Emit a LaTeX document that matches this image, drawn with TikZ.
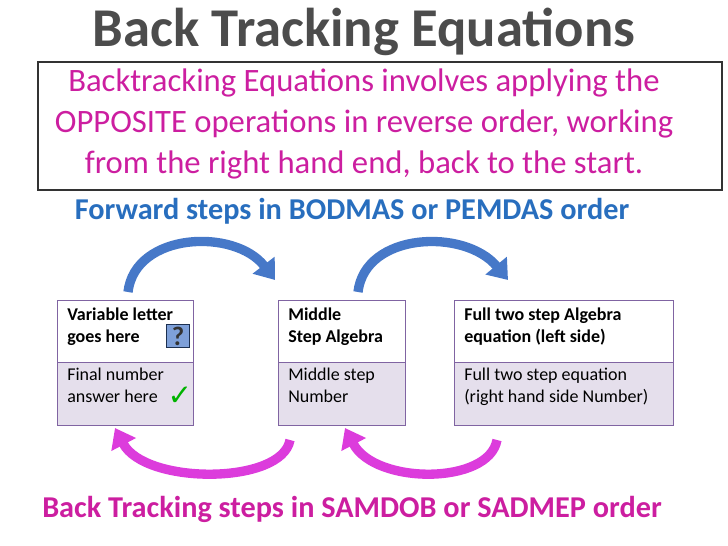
\documentclass[tikz,border=0pt]{standalone}
\usepackage{fontspec}
\setmainfont{Carlito}
\newfontfamily\djv{DejaVu Sans}
\usetikzlibrary{arrows.meta}
\definecolor{pinkt}{RGB}{204,30,160}
\definecolor{bluet}{RGB}{40,110,190}
\definecolor{arrblue}{RGB}{70,120,200}
\definecolor{arrpink}{RGB}{220,60,220}
\definecolor{lav}{RGB}{229,223,236}
\definecolor{boxline}{RGB}{128,100,162}
\tikzset{
  cell/.style={draw=boxline,line width=1pt,anchor=north west,inner sep=0pt},
  barrow/.style={line width=7pt,draw=arrblue,-{Triangle[length=14pt,width=20pt]}},
  parrow/.style={line width=7pt,draw=arrpink,-{Triangle[length=14pt,width=20pt]}}
}
\begin{document}
\begin{tikzpicture}[x=0.75pt,y=-0.75pt]
\useasboundingbox (0,0) rectangle (728,546);
\node[font=\bfseries\fontsize{41}{44}\selectfont,text=black!70] (title) at (364,32) {Back Tracking Equations};
\node[draw=black!80,line width=1.2pt,minimum width=684*0.75pt,minimum height=128*0.75pt] (intro) at (380,126) {};
\node[align=center,text=pinkt,font=\fontsize{24.5}{30.5}\selectfont] (introt) at (364,124) {Backtracking Equations involves applying the\\OPPOSITE operations in reverse order, working\\from the right hand end, back to the start.};
\node[text=bluet,font=\bfseries\fontsize{22.7}{26}\selectfont] (fwd) at (352,211) {Forward steps in BODMAS or PEMDAS order};
\node[text=pinkt,font=\bfseries\fontsize{22.7}{26}\selectfont] (back) at (352,509) {Back Tracking steps in SAMDOB or SADMEP order};
% arrows
\coordinate (f1s) at (128,292); \coordinate (f1e) at (275,280);
\coordinate (f2s) at (358,292); \coordinate (f2e) at (508,280);
\draw[barrow] (f1s) .. controls (135,232) and (235,228) .. (f1e);
\draw[barrow] (f2s) .. controls (365,232) and (465,228) .. (f2e);
\coordinate (b1s) at (290,440); \coordinate (b1e) at (115,428);
\coordinate (b2s) at (497,440); \coordinate (b2e) at (345,428);
\draw[parrow] (b1s) .. controls (282,485) and (145,485) .. (b1e);
\draw[parrow] (b2s) .. controls (489,485) and (375,485) .. (b2e);
% tables
\foreach \n/\x/\w/\ta/\tb in {a/57/136/{Variable letter\\goes here}/{Final number\\answer here},
  b/278/127/{Middle\\Step Algebra}/{Middle step\\Number},
  c/454/219/{Full two step Algebra\\equation (left side)}/{Full two step equation\\(right hand side Number)}}{
  \node[cell,fill=white,minimum width=\w*0.75pt,minimum height=62*0.75pt] (\n top) at (\x,300) {};
  \node[anchor=north west,align=left,font=\bfseries\fontsize{13.5}{16}\selectfont,inner sep=0pt] (\n tt) at (\x+10,308) {\ta};
  \node[cell,fill=lav,minimum width=\w*0.75pt,minimum height=63*0.75pt] (\n bot) at (\x,362) {};
  \node[anchor=north west,align=left,font=\fontsize{13.5}{16}\selectfont,inner sep=0pt] (\n bt) at (\x+10,368) {\tb};
}
\node[fill=arrblue!70,draw=arrblue!40!black,minimum width=17pt,minimum height=17pt,inner sep=0pt,font=\bfseries\fontsize{20}{20}\selectfont,text=black!80] (qm) at (178,336) {?};
\node[text=green!70!black,font=\djv\bfseries\fontsize{22}{22}\selectfont,inner sep=0pt] (tick) at (180,396) {✓};
\end{tikzpicture}
\end{document}
